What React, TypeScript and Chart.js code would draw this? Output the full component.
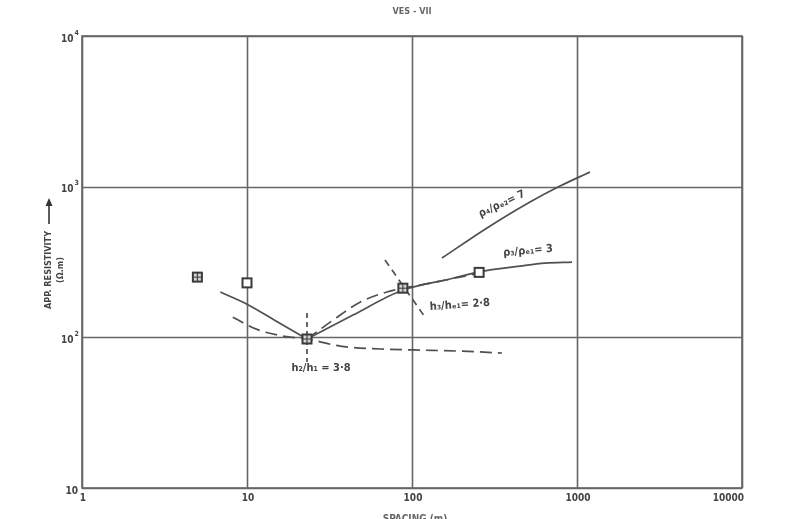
import { useEffect, useRef } from "react";
import { Chart, registerables } from "chart.js";

Chart.register(...registerables);

// Axis decades
const xTicks = [1, 10, 100, 1000, 10000];
const xTickLabels = ["1", "10", "100", "1000", "10000"];
const yTicks = [10, 100, 1000, 10000];
const yTickBase = ["10", "10", "10", "10"];
const yTickExp = ["", "2", "3", "4"];

// Field soundings (apparent resistivity vs spacing)
const crossedX = [5.0, 23.1, 88];
const crossedY = [251, 97.5, 212];
const openX = [10, 255];
const openY = [230, 270];

// Interpreted curves
const leftBranchX = [6.9, 10, 15.8, 23.1];
const leftBranchY = [200, 166, 124, 97.5];
const risingX = [23.1, 43.9, 88.2, 170, 255, 451, 640, 933];
const risingY = [97.5, 140.6, 206, 244, 272, 297, 311, 316];
const lowDashX = [8.2, 11.7, 16.5, 23.1, 36.6, 64, 101, 195, 351];
const lowDashY = [136, 112, 102, 97.5, 87.5, 83.7, 82.5, 81, 78.7];
const highDashX = [23.1, 33.2, 48.4, 70.5, 88.2, 128.5, 195, 255];
const highDashY = [97.5, 130, 171, 200, 212, 229, 251, 267];
const upperX = [152, 285, 519, 789, 1199];
const upperY = [336, 532, 791, 1009, 1251];
const crossVX = [23.1, 23.1];
const crossVY = [145, 68.5];
const crossDX = [68.6, 120];
const crossDY = [326, 136];

// Curve annotations: text, anchor (data coords), rotation in degrees
const noteText = ["ρ₄/ρₑ₂= 7", "ρ₃/ρₑ₁= 3", "h₃/hₑ₁= 2·8", "h₂/h₁ = 3·8"];
const noteX = [351, 505, 195, 28.1];
const noteY = [767, 374, 164, 62.5];
const noteAngle = [-25, -5, -4, 0];

const INK = "#505050";

const pts = (xs: number[], ys: number[]) => xs.map((x, i) => ({ x, y: ys[i] }));

function makeMarker(crossed: boolean): HTMLCanvasElement {
  const c = document.createElement("canvas");
  c.width = 13;
  c.height = 13;
  const g = c.getContext("2d")!;
  g.fillStyle = crossed ? "#d8d8d8" : "#fff";
  g.fillRect(2, 2, 9, 9);
  g.strokeStyle = "#3a3a3a";
  g.lineWidth = 2;
  g.strokeRect(2, 2, 9, 9);
  if (crossed) {
    g.lineWidth = 1.2;
    g.beginPath();
    g.moveTo(6.5, 2);
    g.lineTo(6.5, 11);
    g.moveTo(2, 6.5);
    g.lineTo(11, 6.5);
    g.stroke();
  }
  return c;
}

const boldFont = (px: number) =>
  `bold ${px}px "Liberation Sans Narrow", "DejaVu Sans Condensed", "Liberation Sans", sans-serif`;

const framePlugin = {
  id: "frame",
  beforeDatasetsDraw(chart: any) {
    const { ctx, chartArea: a, scales } = chart;
    const xs = scales.x;
    const ys = scales.y;
    ctx.save();
    ctx.strokeStyle = "#666";
    ctx.lineWidth = 1.6;
    ctx.beginPath();
    xTicks.forEach((v) => {
      const px = Math.round(xs.getPixelForValue(v)) + 0.5;
      ctx.moveTo(px, a.top);
      ctx.lineTo(px, a.bottom);
    });
    yTicks.forEach((v) => {
      const py = Math.round(ys.getPixelForValue(v)) + 0.5;
      ctx.moveTo(a.left, py);
      ctx.lineTo(a.right, py);
    });
    ctx.stroke();
    ctx.strokeRect(a.left, a.top, a.right - a.left, a.bottom - a.top);

    // x tick labels
    ctx.fillStyle = "#444";
    ctx.font = boldFont(10);
    ctx.textBaseline = "top";
    xTicks.forEach((v, i) => {
      const px = xs.getPixelForValue(v);
      const last = i === xTicks.length - 1;
      ctx.textAlign = last ? "right" : "center";
      ctx.fillText(xTickLabels[i], last ? px + 2 : px + 1, a.bottom + 5);
    });

    // y tick labels with superscript exponents
    ctx.textBaseline = "middle";
    yTicks.forEach((v, i) => {
      const py = ys.getPixelForValue(v);
      ctx.font = boldFont(7);
      const ew = ctx.measureText(yTickExp[i]).width;
      ctx.textAlign = "left";
      if (yTickExp[i]) ctx.fillText(yTickExp[i], a.left - 3 - ew, py - 3);
      ctx.font = boldFont(10);
      ctx.textAlign = "right";
      ctx.fillText(yTickBase[i], a.left - 4 - ew, py + 3);
    });
    ctx.restore();
  },
  afterDatasetsDraw(chart: any) {
    const { ctx, chartArea: a, scales } = chart;
    const xs = scales.x;
    const ys = scales.y;
    ctx.save();
    ctx.fillStyle = "#444";
    ctx.font = boldFont(11);
    ctx.textAlign = "center";
    ctx.textBaseline = "middle";
    noteText.forEach((t, i) => {
      ctx.save();
      ctx.translate(xs.getPixelForValue(noteX[i]), ys.getPixelForValue(noteY[i]));
      ctx.rotate((noteAngle[i] * Math.PI) / 180);
      ctx.fillText(t, 0, 0);
      ctx.restore();
    });

    // title
    ctx.fillStyle = "#666";
    ctx.font = boldFont(9);
    ctx.fillText("VES - VII", (a.left + a.right) / 2, 12);

    // y axis title with arrow
    ctx.fillStyle = "#444";
    ctx.save();
    ctx.translate(49, 270);
    ctx.rotate(-Math.PI / 2);
    ctx.font = boldFont(9);
    ctx.textAlign = "center";
    ctx.fillText("APP. RESISTIVITY", 0, 0);
    ctx.strokeStyle = "#333";
    ctx.lineWidth = 1.6;
    ctx.beginPath();
    ctx.moveTo(46, 0);
    ctx.lineTo(66, 0);
    ctx.stroke();
    ctx.fillStyle = "#333";
    ctx.beginPath();
    ctx.moveTo(72, 0);
    ctx.lineTo(64, -3.5);
    ctx.lineTo(64, 3.5);
    ctx.closePath();
    ctx.fill();
    ctx.fillStyle = "#444";
    ctx.fillText("(Ω.m)", 0, 12);
    ctx.restore();

    // x axis title (runs off the lower edge)
    ctx.font = boldFont(10);
    ctx.textBaseline = "top";
    ctx.fillStyle = "#666";
    ctx.fillText("SPACING (m)", (a.left + a.right) / 2 + 3, a.bottom + 26);
    ctx.restore();
  },
};

export default function App() {
  const ref = useRef<HTMLCanvasElement>(null);

  useEffect(() => {
    if (!ref.current) return;
    const crossed = makeMarker(true);
    const open = makeMarker(false);
    const line = (xs: number[], ys: number[], dash: number[] = [], smooth = true) => ({
      type: "line" as const,
      data: pts(xs, ys),
      borderColor: INK,
      borderWidth: 1.7,
      borderDash: dash,
      pointRadius: 0,
      cubicInterpolationMode: smooth ? ("monotone" as const) : ("default" as const),
      tension: smooth ? 0.4 : 0,
      fill: false,
    });
    const chart = new Chart(ref.current, {
      type: "line",
      data: {
        datasets: [
          {
            data: pts(crossedX, crossedY),
            showLine: false,
            pointStyle: crossed,
            pointRadius: 6,
            borderColor: INK,
          } as any,
          {
            data: pts(openX, openY),
            showLine: false,
            pointStyle: open,
            pointRadius: 6,
            borderColor: INK,
          } as any,
          line(leftBranchX, leftBranchY),
          line(risingX, risingY),
          line(lowDashX, lowDashY, [12, 6]),
          line(highDashX, highDashY, [12, 6]),
          line(upperX, upperY),
          line(crossVX, crossVY, [5, 4], false),
          line(crossDX, crossDY, [7, 5], false),
        ],
      },
      options: {
        responsive: false,
        animation: false,
        parsing: false,
        layout: { padding: { left: 82, right: 67, top: 36, bottom: 31 } },
        plugins: { legend: { display: false }, tooltip: { enabled: false } },
        scales: {
          x: { type: "logarithmic", min: 1, max: 10000, display: false },
          y: { type: "logarithmic", min: 10, max: 10000, display: false },
        },
      },
      plugins: [framePlugin],
    });
    return () => chart.destroy();
  }, []);

  return (
    <div
      style={{
        position: "fixed",
        left: 0,
        top: 0,
        width: 809,
        height: 519,
        background: "#fff",
        overflow: "hidden",
      }}
    >
      <canvas ref={ref} width={809} height={519} style={{ width: 809, height: 519 }} />
    </div>
  );
}
